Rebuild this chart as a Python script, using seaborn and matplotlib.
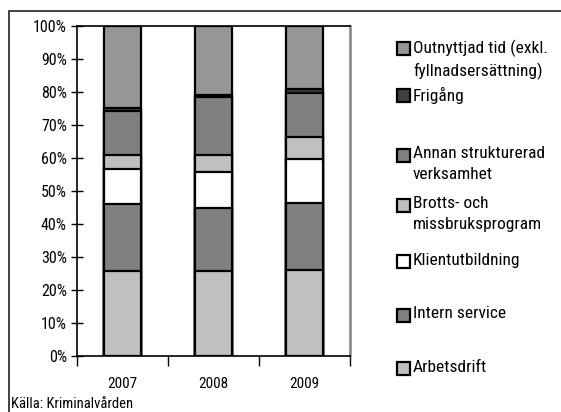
import matplotlib
matplotlib.use("Agg")
import matplotlib.pyplot as plt
from matplotlib import font_manager
from matplotlib.patches import Rectangle
from matplotlib.ticker import FixedLocator, PercentFormatter
import numpy as np
import pandas as pd
import seaborn as sns

# ---- data ----
years = ["2007", "2008", "2009"]
categories = ["Arbetsdrift", "Intern service", "Klientutbildning",
              "Brotts- och\nmissbruksprogram", "Annan strukturerad\nverksamhet",
              "Frigång", "Outnyttjad tid (exkl.\nfyllnadsersättning)"]
arbetsdrift = [25.8, 25.8, 26.1]
intern_service = [20.3, 19.1, 20.2]
klientutbildning = [10.5, 10.9, 13.5]
brotts_missbruk = [4.2, 5.2, 6.7]
annan_strukturerad = [13.5, 17.4, 13.3]
frigang = [1.0, 0.8, 1.0]
outnyttjad = [24.7, 20.8, 19.2]
colors = ["#c0c0c0", "#808080", "#ffffff", "#c0c0c0", "#808080", "#404040", "#969696"]
source = "Källa: Kriminalvården"

series = [arbetsdrift, intern_service, klientutbildning, brotts_missbruk,
          annan_strukturerad, frigang, outnyttjad]

# ---- fonts ----
sns.set_style("white")
names = {f.name for f in font_manager.fontManager.ttflist}
fams = [n for n in ["Roboto Condensed", "PT Sans Narrow", "Archivo Narrow"] if n in names]
plt.rcParams["font.family"] = fams + ["DejaVu Sans"]
plt.rcParams["text.color"] = "black"
plt.rcParams["xtick.color"] = "black"
plt.rcParams["ytick.color"] = "black"

W, H = 561, 412
fig = plt.figure(figsize=(W / 100, H / 100), dpi=100)
ax = fig.add_axes([77 / W, 1 - 356 / H, (350 - 77) / W, (356 - 26) / H])

# cumulative stacks
vals = np.array(series, dtype=float)
cum = np.cumsum(vals, axis=0)
df = pd.DataFrame({"year": np.repeat([years], len(categories), axis=0).ravel(),
                   "cat": np.repeat(range(len(categories)), len(years)),
                   "cum": cum.ravel()})
for i in reversed(range(len(categories))):
    sub = df[df["cat"] == i]
    sns.barplot(data=sub, x="year", y="cum", order=years, color=colors[i],
                saturation=1, edgecolor="black", linewidth=1.6, width=0.4,
                ax=ax, zorder=2)

ax.set_xlim(-0.5, 2.5)
ax.set_ylim(0, 100)
ax.set_xlabel("")
ax.set_ylabel("")
ax.yaxis.set_major_locator(FixedLocator(np.arange(0, 101, 10)))
ax.yaxis.set_major_formatter(PercentFormatter(decimals=0))
ax.tick_params(axis="y", direction="inout", length=8.5, width=1, color="black",
               labelsize=11.5, pad=3, left=True)
ax.xaxis.set_major_locator(FixedLocator([-0.5, 0.5, 1.5, 2.5]))
ax.xaxis.set_minor_locator(FixedLocator([0, 1, 2]))
ax.set_xticklabels([], minor=False)
ax.set_xticklabels(years, minor=True)
ax.tick_params(axis="x", which="major", direction="out", length=7, width=1,
               color="black", bottom=True)
ax.tick_params(axis="x", which="minor", length=0, labelsize=11, pad=15)

for s in ["left", "bottom", "top"]:
    ax.spines[s].set_color("black")
    ax.spines[s].set_linewidth(1.2)
ax.spines["right"].set_color("#808080")
ax.spines["right"].set_linewidth(1.8)
ax.grid(False)

# ---- legend (reverse order, slotted like the source) ----
leg_y = [48, 95, 155, 205, 261, 315, 368]
for k, i in enumerate(reversed(range(len(categories)))):
    yc = leg_y[k]
    fig.patches.append(Rectangle((397 / W, 1 - (yc + 6.5) / H), 13 / W, 13 / H,
                                 transform=fig.transFigure, facecolor=colors[i],
                                 edgecolor="black", linewidth=1.6))
    fig.text(413 / W, 1 - (yc - 8.5) / H, categories[i], ha="left", va="top",
             fontsize=12.5, linespacing=1.45)

# outer frame
fig.patches.append(Rectangle((9 / W, -0.2), 1.5, 1.2 - 11 / H,
                             transform=fig.transFigure, facecolor="none",
                             edgecolor="#222222", linewidth=1.2, clip_on=False))
fig.text(11 / W, 1 - 397 / H, source, ha="left", va="top", fontsize=10.5)

fig.savefig("out.png", dpi=100)
